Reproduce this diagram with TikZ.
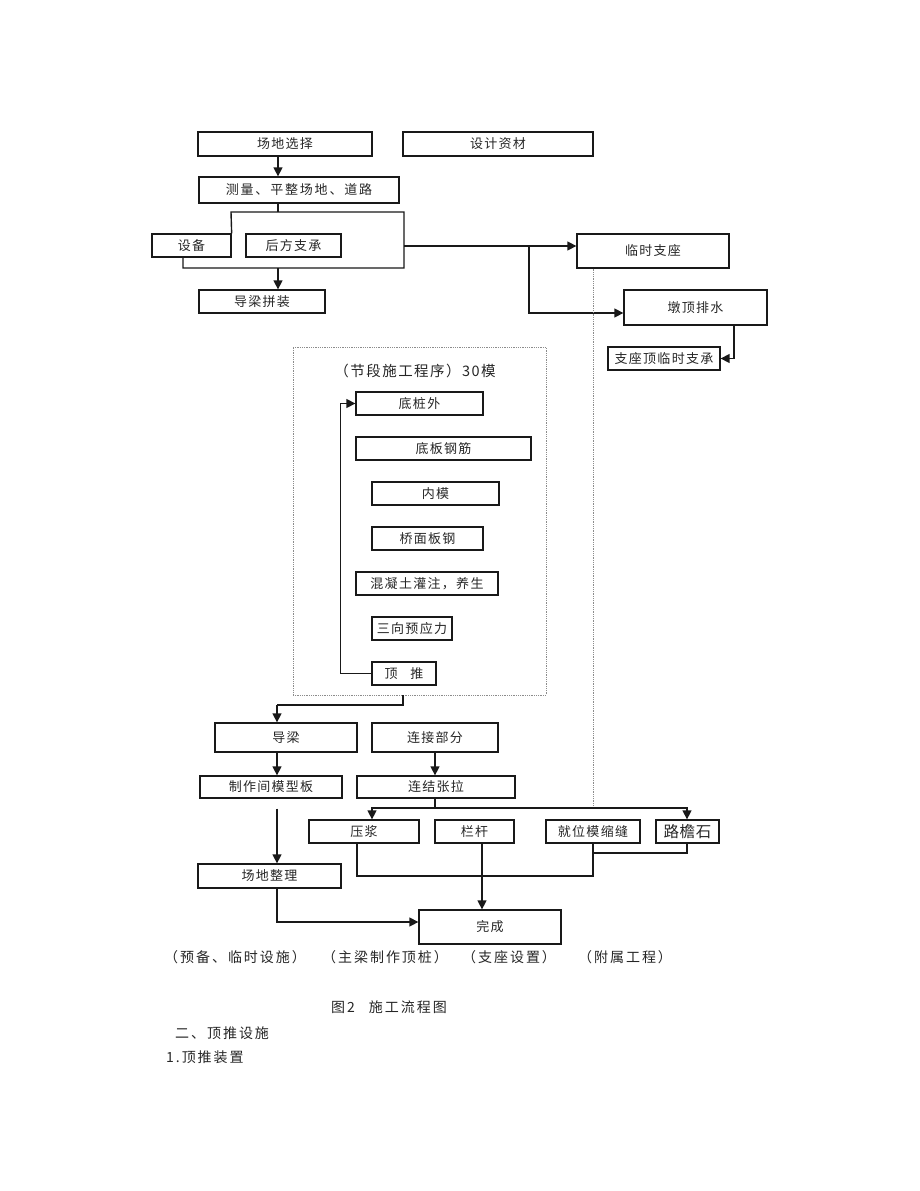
\documentclass[tikz,border=0pt]{standalone}
\usepackage{fontspec}
\setmainfont[LetterSpace=10]{Noto Sans CJK SC}
\newfontfamily\cjkbig[LetterSpace=4]{Noto Sans CJK SC}
\newfontfamily\lblfont[LetterSpace=14]{Noto Sans CJK SC}
\usetikzlibrary{arrows.meta}
\newcommand{\bx}[6]{\node[box,minimum width={(#4-#2)*1pt},minimum height={(#5-#3)*1pt}] (#1) at ({(#2+#4)/2},{(#3+#5)/2}) {#6};}
\tikzset{
  box/.style={draw=black!90,line width=1.3pt,inner sep=0pt,font=\fontsize{13}{15}\selectfont,text=black!85},
  lnk/.style={draw=black!90,line width=1.4pt},
  arr/.style={lnk,-{Triangle[length=9pt,width=9pt]}},
  dots/.style={draw=black!45,line width=0.8pt,densely dotted},
  lbl/.style={inner sep=0pt,font=\lblfont\fontsize{14}{16}\selectfont,text=black!85}
}
\begin{document}
\begin{tikzpicture}[x=1pt,y=-1pt]
\useasboundingbox (0,0) rectangle (920,1191);
% top section
\bx{s1}{198}{132}{372}{156}{场地选择}
\bx{d1}{403}{132}{593}{156}{设计资材}
\node[box,minimum width=200pt,minimum height=26pt,font=\lblfont\fontsize{13}{15}\selectfont] (s2) at (299,190) {测量、平整场地、道路};
\bx{sb}{152}{234}{231}{257}{设备}
\bx{hf}{246}{234}{341}{257}{后方支承}
\bx{s3}{199}{290}{325}{313}{导梁拼装}
\bx{lz}{577}{234}{729}{268}{临时支座}
\bx{dd}{624}{290}{767}{325}{墩顶排水}
\bx{zz}{608}{347}{720}{370}{支座顶临时支承}
\coordinate (cx1) at (278,0);
\coordinate (ta) at (231,212);
\coordinate (tb) at (404,212);
\coordinate (tc) at (404,268);
\coordinate (td) at (183,268);
\coordinate (tr) at (404,246);
\coordinate (br) at (529,313);
\coordinate (cdd) at (734,0);
\coordinate (dv) at (593,808);
\draw[arr] (s1.south -| cx1) -- (s2.north -| cx1);
\draw[lnk] (s2.south -| cx1) -- (cx1 |- ta);
\draw[lnk] (sb.north east) -- (ta) -- (tb) -- (tc) -- (td) -- (sb.south -| td);
\draw[arr] (cx1 |- tc) -- (s3.north -| cx1);
\draw[arr] (tr) -- (tr -| lz.west);
\draw[arr] (tr -| br) -- (br) -- (br -| dd.west);
\draw[arr] (dd.south -| cdd) |- (zz.east);
\draw[dots] (lz.south -| dv) -- (dv);
% segment group
\node[dots,draw,minimum width=253pt,minimum height=348pt,inner sep=0pt] (grp) at (419.5,521) {};
\node[lbl,font=\fontsize{14.5}{16}\selectfont] (ttl) at (415,371) {（节段施工程序）30模};
\bx{dz}{356}{392}{483}{415}{底桩外}
\bx{db}{356}{437}{531}{460}{底板钢筋}
\bx{nm}{372}{482}{499}{505}{内模}
\bx{qm}{372}{527}{483}{550}{桥面板钢}
\bx{hn}{356}{572}{498}{595}{混凝土灌注，养生}
\bx{sx}{372}{617}{452}{640}{三向预应力}
\bx{dt}{372}{662}{436}{685}{顶\ \ \ 推}
\draw[arr] (dt.west) -- ++(-31,0) |- (dz.west);
% lower section
\bx{dl}{215}{723}{357}{752}{导梁}
\bx{lj}{372}{723}{498}{752}{连接部分}
\bx{zm}{200}{776}{342}{798}{制作间模型板}
\bx{lz2}{357}{776}{515}{798}{连结张拉}
\bx{yj}{309}{820}{419}{843}{压浆}
\bx{lg}{435}{820}{514}{843}{栏杆}
\bx{jw}{546}{820}{640}{843}{就位模缩缝}
\node[box,minimum width=63pt,minimum height=23pt,font=\cjkbig\fontsize{15.5}{17}\selectfont] (lu) at (687.5,831.5) {路檐石};
\bx{cd}{198}{864}{341}{888}{场地整理}
\bx{wc}{419}{910}{561}{944}{完成}
\coordinate (cl) at (277,705);
\coordinate (cg) at (403,0);
\coordinate (cm) at (435,808);
\coordinate (h1) at (372,808);
\coordinate (h2) at (687,808);
\coordinate (cb) at (593,876);
\coordinate (ce) at (593,853);
\coordinate (cw) at (482,0);
\coordinate (cf) at (277,922);
\draw[lnk] (grp.south -| cg) |- (cl);
\draw[arr] (cl) -- (cl |- dl.north);
\draw[arr] (dl.south -| cl) -- (zm.north -| cl);
\draw[arr] (lj.south -| cm) -- (lz2.north -| cm);
\draw[arr] ([yshift=-10pt]zm.south -| cl) -- (cd.north -| cl);
\draw[arr] (cd.south -| cl) -- (cf) -- (cf -| wc.west);
\draw[lnk] (lz2.south -| cm) -- (cm);
\draw[arr] (cm) -- (h1) -- (h1 |- yj.north);
\draw[arr] (cm) -- (h2) -- (h2 |- lu.north);
\draw[lnk] (yj.south -| 357,0) |- (cb) -- (cb |- jw.south);
\draw[lnk] (lu.south -| h2) |- (ce);
\draw[arr] (lg.south -| cw) -- (wc.north -| cw);
% labels
\node[lbl,anchor=west] (c1) at (164,957) {（预备、临时设施）};
\node[lbl,anchor=west] (c2) at (322,957) {（主梁制作顶桩）};
\node[lbl,anchor=west] (c3) at (462,957) {（支座设置）};
\node[lbl,anchor=west] (c4) at (578,957) {（附属工程）};
\node[lbl,anchor=west] (cap) at (331,1007) {图2\hspace{14pt}施工流程图};
\node[lbl,anchor=west] (h2t) at (175,1033) {二、顶推设施};
\node[lbl,anchor=west] (h3t) at (166,1057) {1.顶推装置};
\end{tikzpicture}
\end{document}
